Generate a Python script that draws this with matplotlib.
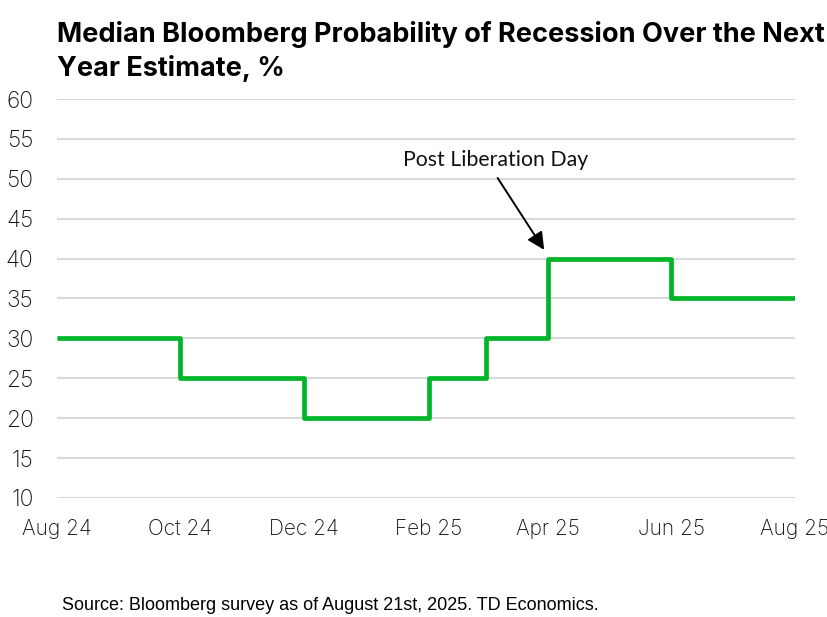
import matplotlib
matplotlib.use("Agg")
import matplotlib.pyplot as plt
import datetime as dt

# Data
months = ["2024-08-01", "2024-09-01", "2024-10-01", "2024-11-01", "2024-12-01",
          "2025-01-01", "2025-02-01", "2025-03-01", "2025-04-01", "2025-05-01",
          "2025-06-01", "2025-07-01", "2025-08-01"]
probability = [30, 30, 25, 25, 20, 20, 25, 30, 40, 40, 35, 35, 35]
tick_dates = ["2024-08-01", "2024-10-01", "2024-12-01", "2025-02-01",
              "2025-04-01", "2025-06-01", "2025-08-01"]
tick_labels = ["Aug 24", "Oct 24", "Dec 24", "Feb 25", "Apr 25", "Jun 25", "Aug 25"]
y_ticks = [10, 15, 20, 25, 30, 35, 40, 45, 50, 55, 60]

x = [dt.datetime.strptime(m, "%Y-%m-%d") for m in months]
xt = [dt.datetime.strptime(m, "%Y-%m-%d") for m in tick_dates]

fig = plt.figure(figsize=(8.27, 6.17), dpi=100)
ax = fig.add_axes([0.069, 0.193, 0.892, 0.6465])

ax.step(x, probability, where="post", color="#00b52a", lw=3.4, solid_joinstyle="round",
        solid_capstyle="butt", zorder=3)

ax.set_ylim(10, 60)
ax.set_yticks(y_ticks)
ax.set_xlim(xt[0], xt[-1])
ax.set_xticks(xt)
ax.set_xticklabels(tick_labels)
for s in ax.spines.values():
    s.set_visible(False)
ax.grid(axis="y", color="#d9d9d9", lw=1.5, zorder=0)
ax.tick_params(axis="x", length=0, labelsize=15, colors="#111111", pad=15)
ax.tick_params(axis="y", length=0, labelsize=16.5, colors="#111111", pad=17)
for lab in ax.get_xticklabels() + ax.get_yticklabels():
    lab.set_fontfamily("Inter")
    lab.set_fontweight("light")

ax.text(dt.datetime(2025, 3, 6), 52.3, "Post Liberation Day", ha="center", va="center",
        fontsize=15.3, fontfamily="Lato", color="#111111")
ax.annotate("", xy=(dt.datetime(2025, 3, 30), 41.1),
            xytext=(dt.datetime(2025, 3, 7), 50.1),
            arrowprops=dict(arrowstyle="-|>", color="black", lw=1.4,
                            mutation_scale=26, shrinkA=0, shrinkB=0))

fig.text(0.069, 0.9165, "Median Bloomberg Probability of Recession Over the Next\nYear Estimate, %",
         ha="left", va="center", fontsize=19.5, fontweight="bold", fontfamily="Inter",
         linespacing=1.37, color="black")

fig.text(0.075, 0.019, "Source: Bloomberg survey as of August 21st, 2025. TD Economics.",
         ha="left", va="center", fontsize=13, fontfamily="Liberation Sans", color="black")

fig.savefig("out.png", dpi=100)
